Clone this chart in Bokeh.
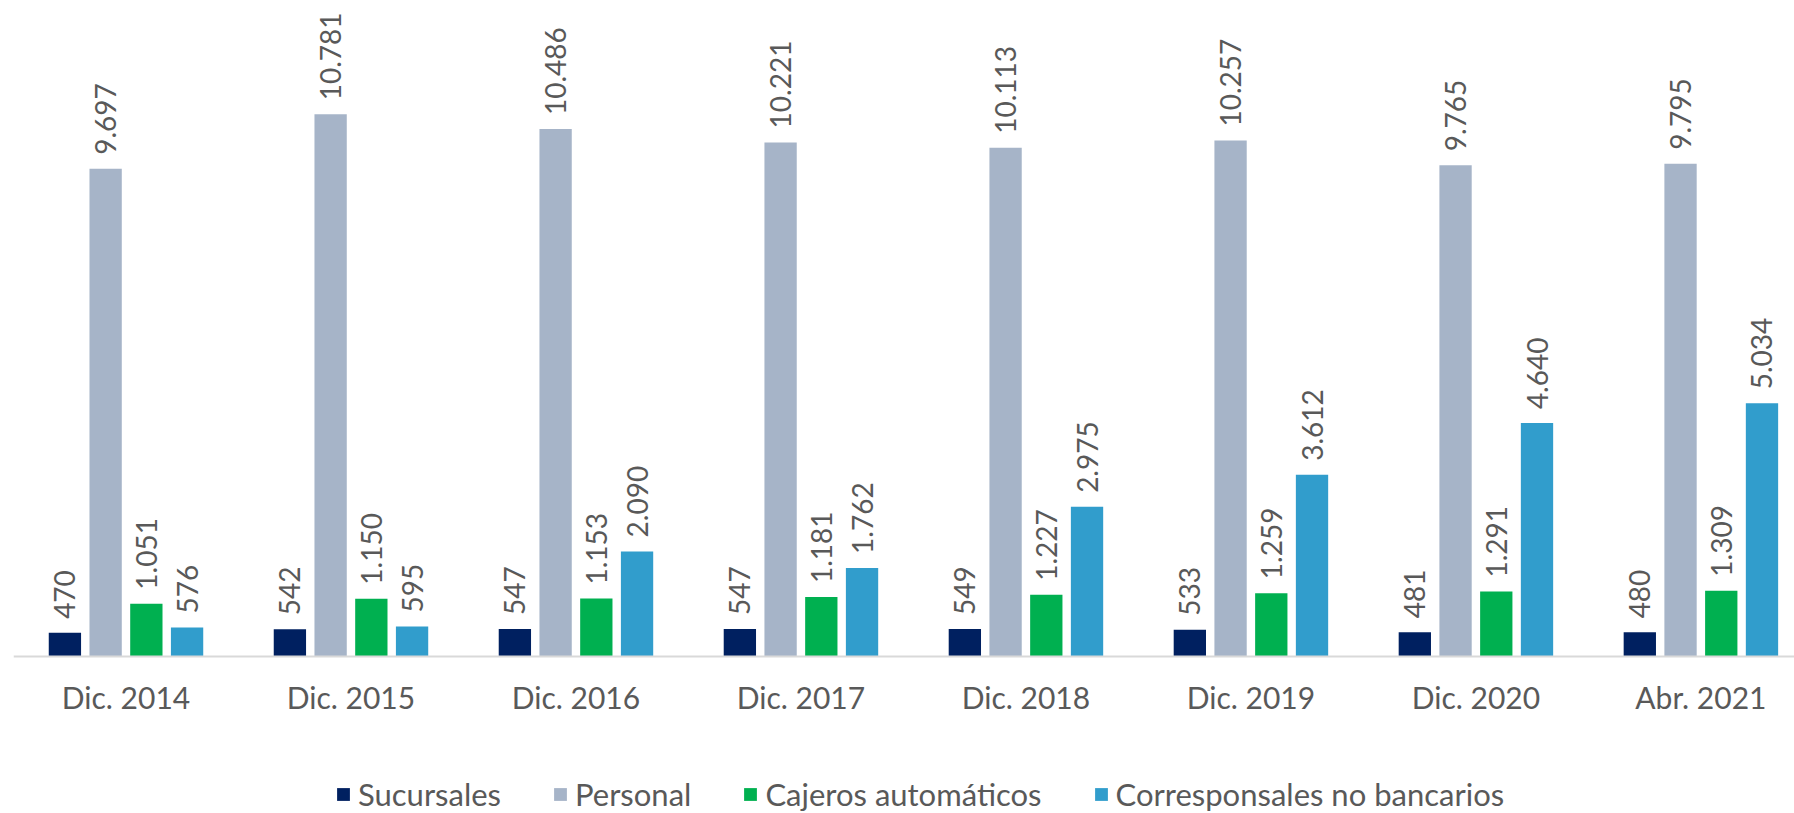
from bokeh.plotting import figure
from bokeh.models import ColumnDataSource, Range1d, FixedTicker, Legend, LegendItem
from bokeh.core.properties import value
from bokeh.embed import file_html
from bokeh.resources import INLINE
import math

categories = ["Dic. 2014", "Dic. 2015", "Dic. 2016", "Dic. 2017", "Dic. 2018", "Dic. 2019", "Dic. 2020", "Abr. 2021"]
sucursales = [470, 542, 547, 547, 549, 533, 481, 480]
personal = [9697, 10781, 10486, 10221, 10113, 10257, 9765, 9795]
cajeros = [1051, 1150, 1153, 1181, 1227, 1259, 1291, 1309]
corresponsales = [576, 595, 2090, 1762, 2975, 3612, 4640, 5034]

series = [
    ("Sucursales", sucursales, "#002060"),
    ("Personal", personal, "#A6B4C8"),
    ("Cajeros automáticos", cajeros, "#00B050"),
    ("Corresponsales no bancarios", corresponsales, "#319DCC"),
]

FONT = "Lato"
TXT = "#595959"

p = figure(width=1794, height=813, output_backend="svg", toolbar_location=None,
           x_range=Range1d(0, 7.916), y_range=Range1d(-3121, 13042),
           min_border_left=13, min_border_right=0, min_border_top=0, min_border_bottom=0)
p.outline_line_color = None
p.xgrid.visible = False
p.ygrid.visible = False
p.yaxis.visible = False

centers = [i + 0.5 for i in range(len(categories))]
p.xaxis.fixed_location = 0
p.xaxis.ticker = FixedTicker(ticks=centers)
p.xaxis.major_label_overrides = {c: lab for c, lab in zip(centers, categories)}
p.xaxis.axis_line_color = "#D9D9D9"
p.xaxis.axis_line_width = 2
p.xaxis.major_tick_line_color = None
p.xaxis.minor_tick_line_color = None
p.xaxis.major_label_text_font = FONT
p.xaxis.major_label_text_font_size = "30px"
p.xaxis.major_label_text_color = TXT
p.xaxis.major_label_standoff = 16

step = 0.181
bw = 0.1436
items = []
for k, (name, vals, color) in enumerate(series):
    off = (k - 1.5) * step
    src = ColumnDataSource(dict(
        x=[c + off for c in centers],
        top=vals,
        lab=[f"{v:,}".replace(",", ".") for v in vals],
    ))
    r = p.vbar(x="x", top="top", width=bw, source=src, fill_color=color, line_color=None)
    p.text(x="x", y="top", text="lab", source=src, angle=math.pi / 2,
           text_align="left", text_baseline="middle", y_offset=-14,
           text_font=value(FONT), text_font_size="28px", text_color=TXT)
    items.append(LegendItem(label=name, renderers=[r]))

legend = Legend(items=items, orientation="horizontal", location=(322, 0),
                glyph_width=16, glyph_height=16, label_standoff=7, spacing=51,
                label_height=30, label_width=0,
                padding=0, margin=0, border_line_color=None, background_fill_alpha=0,
                label_text_font=FONT, label_text_font_size="31px", label_text_color=TXT)
p.add_layout(legend, "center")

open("out.html", "w").write(file_html(p, INLINE))
